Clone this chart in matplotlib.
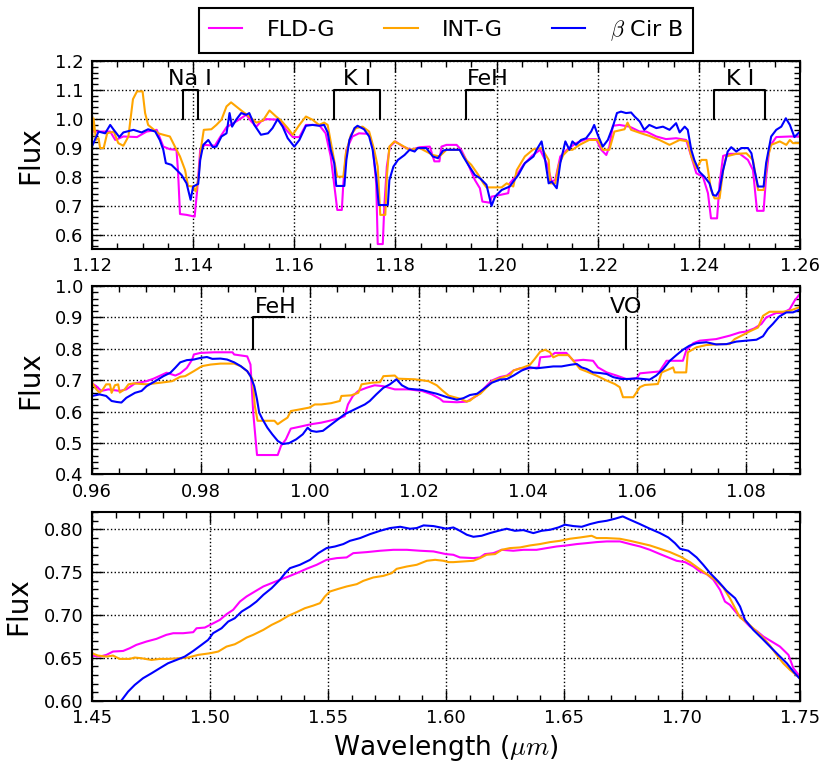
import matplotlib
matplotlib.use('Agg')
import matplotlib.pyplot as plt
from matplotlib.ticker import MultipleLocator, AutoMinorLocator, FormatStrFormatter

plt.rcParams['mathtext.fontset'] = 'cm'
plt.rcParams['font.family'] = ['DejaVu Sans']

# ---------------- data: J-band (1.12-1.26 um) ----------------
j_wave_fld = [1.1203, 1.1236, 1.1246, 1.1262, 1.1289, 1.1308, 1.1328, 1.1341, 1.1354, 1.1367, 1.1370, 1.1374,
              1.1387, 1.1403, 1.1408, 1.1414, 1.1423, 1.1443, 1.1452, 1.1466, 1.1485, 1.1505, 1.1515, 1.1525,
              1.1534, 1.1544, 1.1570, 1.1584, 1.1597, 1.1610, 1.1623, 1.1649, 1.1662, 1.1672, 1.1681, 1.1685,
              1.1694, 1.1697, 1.1703, 1.1715, 1.1728, 1.1748, 1.1755, 1.1762, 1.1765, 1.1775, 1.1778, 1.1783,
              1.1789, 1.1800, 1.1815, 1.1831, 1.1848, 1.1868, 1.1877, 1.1887, 1.1891, 1.1901, 1.1921, 1.1930,
              1.1940, 1.1957, 1.1967, 1.1972, 1.1987, 1.1990, 1.2007, 1.2023, 1.2026, 1.2040, 1.2053, 1.2070,
              1.2086, 1.2099, 1.2109, 1.2116, 1.2126, 1.2139, 1.2157, 1.2177, 1.2197, 1.2207, 1.2217, 1.2223,
              1.2230, 1.2243, 1.2263, 1.2283, 1.2296, 1.2316, 1.2335, 1.2355, 1.2375, 1.2385, 1.2395, 1.2408,
              1.2418, 1.2424, 1.2436, 1.2441, 1.2448, 1.2461, 1.2481, 1.2497, 1.2507, 1.2515, 1.2528, 1.2533,
              1.2540, 1.2553, 1.2580, 1.2600]
j_flux_fld = [0.956, 0.956, 0.927, 0.939, 0.937, 0.956, 0.962, 0.904, 0.895, 0.893, 0.823, 0.671,
              0.668, 0.662, 0.754, 0.893, 0.910, 0.907, 0.933, 0.971, 0.991, 1.014, 0.991, 0.973,
              0.991, 0.999, 0.997, 0.962, 0.937, 0.937, 0.979, 0.979, 0.950, 0.870, 0.743, 0.685,
              0.685, 0.777, 0.893, 0.939, 0.950, 0.948, 0.904, 0.777, 0.567, 0.567, 0.697, 0.835,
              0.904, 0.922, 0.904, 0.893, 0.902, 0.904, 0.853, 0.853, 0.904, 0.910, 0.910, 0.893,
              0.858, 0.789, 0.760, 0.714, 0.710, 0.731, 0.737, 0.743, 0.777, 0.806, 0.841, 0.872,
              0.893, 0.847, 0.783, 0.789, 0.870, 0.893, 0.916, 0.930, 0.930, 0.893, 0.875, 0.904,
              0.976, 0.979, 0.973, 0.956, 0.956, 0.939, 0.930, 0.933, 0.927, 0.870, 0.812, 0.800,
              0.743, 0.656, 0.656, 0.777, 0.872, 0.879, 0.879, 0.858, 0.823, 0.682, 0.682, 0.800,
              0.904, 0.937, 0.939, 0.939]

j_wave_int = [1.1200, 1.1203, 1.1208, 1.1213, 1.1216, 1.1223, 1.1230, 1.1243, 1.1252, 1.1262, 1.1272, 1.1281,
              1.1289, 1.1300, 1.1305, 1.1311, 1.1331, 1.1341, 1.1354, 1.1364, 1.1374, 1.1384, 1.1390, 1.1400,
              1.1405, 1.1410, 1.1416, 1.1421, 1.1436, 1.1446, 1.1456, 1.1466, 1.1475, 1.1485, 1.1498, 1.1511,
              1.1525, 1.1538, 1.1551, 1.1564, 1.1574, 1.1587, 1.1597, 1.1610, 1.1623, 1.1636, 1.1649, 1.1659,
              1.1666, 1.1675, 1.1685, 1.1697, 1.1702, 1.1712, 1.1722, 1.1735, 1.1748, 1.1758, 1.1765, 1.1770,
              1.1780, 1.1783, 1.1788, 1.1798, 1.1811, 1.1828, 1.1848, 1.1861, 1.1874, 1.1887, 1.1901, 1.1927,
              1.1940, 1.1950, 1.1964, 1.1974, 1.1980, 1.2010, 1.2020, 1.2033, 1.2040, 1.2056, 1.2073, 1.2089,
              1.2103, 1.2106, 1.2116, 1.2123, 1.2132, 1.2142, 1.2150, 1.2164, 1.2183, 1.2200, 1.2210, 1.2223,
              1.2233, 1.2253, 1.2259, 1.2266, 1.2286, 1.2302, 1.2322, 1.2342, 1.2362, 1.2378, 1.2385, 1.2395,
              1.2405, 1.2415, 1.2424, 1.2431, 1.2441, 1.2448, 1.2454, 1.2474, 1.2494, 1.2507, 1.2517, 1.2528,
              1.2535, 1.2543, 1.2560, 1.2573, 1.2580, 1.2586, 1.2600]
j_flux_int = [0.930, 1.002, 0.927, 0.933, 0.899, 0.899, 0.950, 0.956, 0.916, 0.907, 0.939, 1.068,
              1.095, 1.095, 1.020, 0.979, 0.950, 0.945, 0.939, 0.904, 0.870, 0.823, 0.768, 0.766,
              0.749, 0.789, 0.904, 0.962, 0.964, 0.979, 0.997, 1.043, 1.057, 1.043, 1.025, 1.008,
              0.987, 0.994, 1.029, 1.008, 0.994, 0.968, 0.945, 0.979, 1.008, 0.997, 0.979, 0.987,
              0.979, 0.893, 0.800, 0.800, 0.881, 0.945, 0.968, 0.973, 0.956, 0.893, 0.835, 0.668,
              0.668, 0.800, 0.904, 0.922, 0.910, 0.893, 0.899, 0.887, 0.875, 0.870, 0.893, 0.893,
              0.858, 0.841, 0.806, 0.777, 0.763, 0.763, 0.777, 0.766, 0.823, 0.870, 0.895, 0.899,
              0.858, 0.777, 0.777, 0.841, 0.875, 0.893, 0.893, 0.910, 0.927, 0.927, 0.893, 0.893,
              0.956, 0.964, 0.987, 0.962, 0.950, 0.941, 0.927, 0.910, 0.927, 0.922, 0.870, 0.829,
              0.858, 0.858, 0.754, 0.725, 0.725, 0.823, 0.870, 0.879, 0.881, 0.858, 0.754, 0.754,
              0.858, 0.910, 0.922, 0.910, 0.927, 0.916, 0.916]

j_wave_bcb = [1.1200, 1.1213, 1.1226, 1.1236, 1.1243, 1.1254, 1.1262, 1.1282, 1.1298, 1.1311, 1.1325, 1.1334,
              1.1341, 1.1346, 1.1357, 1.1367, 1.1377, 1.1387, 1.1395, 1.1400, 1.1410, 1.1414, 1.1420, 1.1430,
              1.1439, 1.1446, 1.1456, 1.1466, 1.1472, 1.1477, 1.1485, 1.1495, 1.1505, 1.1511, 1.1521, 1.1534,
              1.1548, 1.1557, 1.1567, 1.1577, 1.1587, 1.1600, 1.1610, 1.1623, 1.1636, 1.1649, 1.1659, 1.1666,
              1.1672, 1.1679, 1.1683, 1.1699, 1.1703, 1.1709, 1.1719, 1.1725, 1.1738, 1.1748, 1.1755, 1.1762,
              1.1767, 1.1785, 1.1788, 1.1796, 1.1805, 1.1818, 1.1828, 1.1838, 1.1844, 1.1861, 1.1874, 1.1884,
              1.1894, 1.1901, 1.1927, 1.1934, 1.1944, 1.1957, 1.1967, 1.1980, 1.1990, 1.1997, 1.2010, 1.2026,
              1.2033, 1.2043, 1.2056, 1.2073, 1.2079, 1.2089, 1.2096, 1.2103, 1.2109, 1.2119, 1.2126, 1.2136,
              1.2144, 1.2150, 1.2157, 1.2167, 1.2177, 1.2187, 1.2193, 1.2200, 1.2210, 1.2220, 1.2230, 1.2238,
              1.2246, 1.2256, 1.2266, 1.2273, 1.2283, 1.2292, 1.2302, 1.2316, 1.2329, 1.2342, 1.2355, 1.2362,
              1.2372, 1.2378, 1.2385, 1.2391, 1.2401, 1.2411, 1.2421, 1.2428, 1.2434, 1.2441, 1.2448, 1.2457,
              1.2464, 1.2474, 1.2484, 1.2497, 1.2504, 1.2510, 1.2517, 1.2528, 1.2533, 1.2543, 1.2553, 1.2563,
              1.2572, 1.2580, 1.2589, 1.2600]
j_flux_bcb = [0.905, 0.956, 0.950, 0.979, 0.962, 0.937, 0.953, 0.962, 0.953, 0.964, 0.956, 0.927,
              0.893, 0.847, 0.841, 0.824, 0.806, 0.777, 0.720, 0.766, 0.775, 0.858, 0.910, 0.927,
              0.902, 0.904, 0.939, 0.950, 1.020, 0.973, 0.997, 1.020, 1.014, 1.020, 0.979, 0.945,
              0.950, 0.968, 0.999, 0.973, 0.933, 0.904, 0.927, 0.976, 0.979, 0.976, 0.979, 0.953,
              0.893, 0.847, 0.768, 0.768, 0.858, 0.927, 0.968, 0.976, 0.964, 0.939, 0.893, 0.800,
              0.702, 0.702, 0.788, 0.835, 0.858, 0.875, 0.893, 0.887, 0.899, 0.899, 0.870, 0.864,
              0.890, 0.893, 0.893, 0.870, 0.841, 0.806, 0.795, 0.772, 0.699, 0.731, 0.754, 0.766,
              0.783, 0.806, 0.847, 0.870, 0.893, 0.922, 0.858, 0.777, 0.783, 0.760, 0.847, 0.922,
              0.893, 0.922, 0.910, 0.927, 0.933, 0.956, 0.979, 0.945, 0.904, 0.927, 0.973, 1.020,
              1.025, 1.020, 1.022, 1.008, 0.991, 0.962, 0.979, 0.968, 0.973, 0.962, 0.985, 0.953,
              0.973, 0.962, 0.893, 0.858, 0.817, 0.800, 0.777, 0.737, 0.734, 0.754, 0.823, 0.887,
              0.902, 0.887, 0.899, 0.899, 0.881, 0.823, 0.766, 0.766, 0.847, 0.939, 0.962, 0.973,
              1.002, 0.979, 0.937, 0.956]

# ---------------- data: Y-band (0.96-1.09 um) ----------------
y_wave_fld = [0.9600, 0.9608, 0.9617, 0.9630, 0.9651, 0.9663, 0.9679, 0.9700, 0.9713, 0.9737, 0.9753, 0.9762,
              0.9774, 0.9784, 0.9787, 0.9799, 0.9824, 0.9858, 0.9861, 0.9885, 0.9891, 0.9896, 0.9903, 0.9941,
              0.9947, 0.9956, 0.9965, 0.9984, 1.0002, 1.0021, 1.0036, 1.0052, 1.0064, 1.0070, 1.0079, 1.0089,
              1.0104, 1.0119, 1.0135, 1.0156, 1.0181, 1.0206, 1.0224, 1.0239, 1.0245, 1.0270, 1.0288, 1.0307,
              1.0322, 1.0334, 1.0349, 1.0362, 1.0374, 1.0386, 1.0404, 1.0420, 1.0423, 1.0441, 1.0450, 1.0471,
              1.0484, 1.0502, 1.0520, 1.0529, 1.0545, 1.0563, 1.0581, 1.0600, 1.0606, 1.0624, 1.0642, 1.0655,
              1.0670, 1.0685, 1.0691, 1.0704, 1.0716, 1.0746, 1.0771, 1.0789, 1.0801, 1.0816, 1.0829, 1.0838,
              1.0856, 1.0868, 1.0881, 1.0890, 1.0898]
y_flux_fld = [0.690, 0.681, 0.666, 0.671, 0.666, 0.671, 0.690, 0.697, 0.705, 0.724, 0.715, 0.722,
              0.739, 0.766, 0.782, 0.787, 0.789, 0.789, 0.782, 0.776, 0.750, 0.597, 0.462, 0.462,
              0.491, 0.512, 0.546, 0.553, 0.560, 0.565, 0.571, 0.578, 0.586, 0.623, 0.650, 0.666,
              0.676, 0.684, 0.681, 0.671, 0.671, 0.666, 0.655, 0.641, 0.632, 0.630, 0.632, 0.651,
              0.678, 0.699, 0.710, 0.715, 0.731, 0.738, 0.738, 0.741, 0.773, 0.776, 0.787, 0.787,
              0.762, 0.765, 0.762, 0.741, 0.725, 0.715, 0.704, 0.706, 0.722, 0.725, 0.728, 0.762,
              0.762, 0.762, 0.794, 0.818, 0.826, 0.831, 0.842, 0.852, 0.855, 0.865, 0.879, 0.900,
              0.914, 0.914, 0.926, 0.953, 0.971]

y_wave_int = [0.9600, 0.9608, 0.9614, 0.9620, 0.9626, 0.9633, 0.9636, 0.9642, 0.9648, 0.9651, 0.9660, 0.9667,
              0.9676, 0.9700, 0.9725, 0.9747, 0.9762, 0.9771, 0.9787, 0.9802, 0.9818, 0.9836, 0.9861, 0.9873,
              0.9885, 0.9895, 0.9899, 0.9904, 0.9935, 0.9941, 0.9950, 0.9959, 0.9965, 0.9984, 0.9999, 1.0009,
              1.0021, 1.0039, 1.0055, 1.0058, 1.0076, 1.0089, 1.0095, 1.0113, 1.0129, 1.0135, 1.0156, 1.0162,
              1.0193, 1.0218, 1.0233, 1.0243, 1.0255, 1.0276, 1.0288, 1.0294, 1.0304, 1.0313, 1.0325, 1.0337,
              1.0355, 1.0368, 1.0374, 1.0392, 1.0404, 1.0413, 1.0423, 1.0432, 1.0441, 1.0447, 1.0456, 1.0475,
              1.0484, 1.0496, 1.0508, 1.0526, 1.0545, 1.0560, 1.0569, 1.0575, 1.0594, 1.0606, 1.0615, 1.0639,
              1.0646, 1.0661, 1.0667, 1.0670, 1.0691, 1.0694, 1.0710, 1.0728, 1.0752, 1.0771, 1.0780, 1.0795,
              1.0807, 1.0823, 1.0832, 1.0844, 1.0868, 1.0881, 1.0898]
y_flux_int = [0.692, 0.671, 0.660, 0.671, 0.687, 0.687, 0.660, 0.684, 0.687, 0.661, 0.671, 0.687,
              0.690, 0.687, 0.692, 0.697, 0.711, 0.713, 0.729, 0.745, 0.750, 0.753, 0.753, 0.745,
              0.729, 0.703, 0.618, 0.571, 0.571, 0.560, 0.571, 0.581, 0.602, 0.608, 0.613, 0.623,
              0.623, 0.627, 0.634, 0.650, 0.652, 0.660, 0.687, 0.692, 0.694, 0.713, 0.715, 0.705,
              0.703, 0.697, 0.684, 0.668, 0.651, 0.641, 0.632, 0.635, 0.649, 0.657, 0.678, 0.699,
              0.710, 0.717, 0.731, 0.741, 0.749, 0.768, 0.791, 0.797, 0.789, 0.773, 0.780, 0.780,
              0.762, 0.736, 0.728, 0.715, 0.699, 0.688, 0.678, 0.646, 0.646, 0.678, 0.685, 0.688,
              0.725, 0.736, 0.741, 0.725, 0.725, 0.789, 0.805, 0.812, 0.815, 0.815, 0.831, 0.844,
              0.855, 0.868, 0.905, 0.918, 0.918, 0.921, 0.932]

y_wave_bcb = [0.9600, 0.9614, 0.9626, 0.9636, 0.9645, 0.9654, 0.9663, 0.9679, 0.9691, 0.9700, 0.9716, 0.9731,
              0.9744, 0.9753, 0.9762, 0.9774, 0.9787, 0.9799, 0.9811, 0.9821, 0.9836, 0.9848, 0.9861, 0.9873,
              0.9885, 0.9891, 0.9898, 0.9903, 0.9907, 0.9913, 0.9922, 0.9931, 0.9941, 0.9950, 0.9962, 0.9975,
              0.9987, 0.9996, 1.0002, 1.0012, 1.0024, 1.0036, 1.0052, 1.0064, 1.0076, 1.0089, 1.0101, 1.0110,
              1.0122, 1.0135, 1.0147, 1.0159, 1.0169, 1.0181, 1.0193, 1.0206, 1.0221, 1.0233, 1.0252, 1.0270,
              1.0282, 1.0294, 1.0307, 1.0319, 1.0334, 1.0349, 1.0362, 1.0374, 1.0389, 1.0404, 1.0416, 1.0432,
              1.0447, 1.0462, 1.0478, 1.0490, 1.0499, 1.0508, 1.0520, 1.0533, 1.0545, 1.0557, 1.0572, 1.0587,
              1.0600, 1.0612, 1.0624, 1.0636, 1.0649, 1.0661, 1.0673, 1.0685, 1.0697, 1.0710, 1.0728, 1.0746,
              1.0765, 1.0783, 1.0801, 1.0820, 1.0832, 1.0841, 1.0850, 1.0862, 1.0875, 1.0887, 1.0898]
y_flux_bcb = [0.650, 0.655, 0.650, 0.634, 0.631, 0.629, 0.644, 0.660, 0.666, 0.681, 0.697, 0.713,
              0.724, 0.740, 0.757, 0.764, 0.766, 0.771, 0.774, 0.768, 0.769, 0.766, 0.757, 0.745,
              0.729, 0.713, 0.681, 0.639, 0.597, 0.576, 0.549, 0.528, 0.507, 0.497, 0.500, 0.512,
              0.528, 0.549, 0.539, 0.536, 0.539, 0.555, 0.576, 0.592, 0.602, 0.613, 0.623, 0.634,
              0.655, 0.676, 0.687, 0.703, 0.684, 0.673, 0.671, 0.669, 0.662, 0.657, 0.646, 0.638,
              0.643, 0.653, 0.657, 0.672, 0.692, 0.702, 0.704, 0.715, 0.731, 0.741, 0.738, 0.741,
              0.744, 0.744, 0.749, 0.752, 0.741, 0.736, 0.725, 0.723, 0.720, 0.710, 0.704, 0.704,
              0.706, 0.704, 0.702, 0.715, 0.736, 0.762, 0.780, 0.797, 0.810, 0.818, 0.821, 0.814,
              0.815, 0.823, 0.826, 0.829, 0.840, 0.863, 0.879, 0.903, 0.916, 0.916, 0.924]

# ---------------- data: H-band (1.45-1.75 um) ----------------
h_wave_fld = [1.4500, 1.4533, 1.4561, 1.4589, 1.4632, 1.4660, 1.4688, 1.4731, 1.4773, 1.4815, 1.4844, 1.4886,
              1.4929, 1.4943, 1.4978, 1.5006, 1.5042, 1.5070, 1.5098, 1.5127, 1.5155, 1.5190, 1.5226, 1.5261,
              1.5296, 1.5332, 1.5367, 1.5409, 1.5452, 1.5494, 1.5537, 1.5579, 1.5607, 1.5664, 1.5721, 1.5777,
              1.5834, 1.5890, 1.5947, 1.6000, 1.6031, 1.6059, 1.6116, 1.6144, 1.6165, 1.6201, 1.6236, 1.6285,
              1.6328, 1.6384, 1.6427, 1.6469, 1.6511, 1.6554, 1.6596, 1.6638, 1.6681, 1.6737, 1.6780, 1.6822,
              1.6864, 1.6907, 1.6949, 1.6977, 1.7013, 1.7048, 1.7076, 1.7105, 1.7133, 1.7161, 1.7182, 1.7203,
              1.7232, 1.7260, 1.7288, 1.7316, 1.7345, 1.7380, 1.7415, 1.7451, 1.7472, 1.7500]
h_flux_fld = [0.6527, 0.6515, 0.6535, 0.6574, 0.6581, 0.6613, 0.6652, 0.6691, 0.6722, 0.6769, 0.6788, 0.6788,
              0.6800, 0.6846, 0.6854, 0.6893, 0.6944, 0.7010, 0.7061, 0.7158, 0.7217, 0.7275, 0.7334, 0.7373,
              0.7412, 0.7450, 0.7489, 0.7540, 0.7587, 0.7645, 0.7665, 0.7673, 0.7723, 0.7735, 0.7751, 0.7762,
              0.7762, 0.7751, 0.7743, 0.7712, 0.7704, 0.7673, 0.7665, 0.7673, 0.7712, 0.7723, 0.7762, 0.7751,
              0.7762, 0.7762, 0.7782, 0.7801, 0.7813, 0.7829, 0.7840, 0.7852, 0.7860, 0.7860, 0.7829, 0.7801,
              0.7762, 0.7712, 0.7665, 0.7634, 0.7618, 0.7567, 0.7509, 0.7478, 0.7412, 0.7295, 0.7158, 0.7119,
              0.7022, 0.6944, 0.6866, 0.6815, 0.6749, 0.6691, 0.6632, 0.6535, 0.6379, 0.6281]

h_wave_int = [1.4500, 1.4525, 1.4561, 1.4589, 1.4617, 1.4660, 1.4681, 1.4709, 1.4752, 1.4787, 1.4822, 1.4872,
              1.4907, 1.4950, 1.5000, 1.5035, 1.5070, 1.5105, 1.5127, 1.5155, 1.5183, 1.5226, 1.5261, 1.5296,
              1.5332, 1.5367, 1.5402, 1.5438, 1.5466, 1.5487, 1.5508, 1.5544, 1.5579, 1.5622, 1.5650, 1.5692,
              1.5735, 1.5770, 1.5791, 1.5834, 1.5876, 1.5919, 1.5954, 1.5989, 1.6011, 1.6031, 1.6073, 1.6116,
              1.6144, 1.6172, 1.6208, 1.6236, 1.6271, 1.6314, 1.6356, 1.6398, 1.6441, 1.6483, 1.6525, 1.6568,
              1.6617, 1.6638, 1.6681, 1.6737, 1.6780, 1.6822, 1.6864, 1.6907, 1.6949, 1.6992, 1.7034, 1.7069,
              1.7105, 1.7140, 1.7175, 1.7203, 1.7225, 1.7246, 1.7274, 1.7309, 1.7345, 1.7373, 1.7401, 1.7429,
              1.7458, 1.7500]
h_flux_int = [0.6554, 0.6527, 0.6515, 0.6527, 0.6488, 0.6488, 0.6504, 0.6496, 0.6476, 0.6488, 0.6488, 0.6496,
              0.6504, 0.6535, 0.6554, 0.6574, 0.6632, 0.6659, 0.6691, 0.6737, 0.6769, 0.6827, 0.6885, 0.6932,
              0.6991, 0.7034, 0.7080, 0.7111, 0.7139, 0.7217, 0.7275, 0.7306, 0.7334, 0.7361, 0.7400, 0.7439,
              0.7458, 0.7489, 0.7540, 0.7567, 0.7587, 0.7634, 0.7645, 0.7634, 0.7618, 0.7618, 0.7626, 0.7634,
              0.7665, 0.7704, 0.7712, 0.7762, 0.7782, 0.7790, 0.7813, 0.7829, 0.7852, 0.7867, 0.7891, 0.7906,
              0.7926, 0.7899, 0.7899, 0.7891, 0.7867, 0.7840, 0.7813, 0.7774, 0.7735, 0.7684, 0.7618, 0.7548,
              0.7478, 0.7412, 0.7322, 0.7197, 0.7080, 0.6971, 0.6917, 0.6827, 0.6730, 0.6644, 0.6535, 0.6437,
              0.6359, 0.6262]

h_wave_bcb = [1.4600, 1.4624, 1.4653, 1.4681, 1.4716, 1.4752, 1.4787, 1.4822, 1.4858, 1.4893, 1.4929, 1.4964,
              1.4992, 1.5013, 1.5049, 1.5077, 1.5105, 1.5134, 1.5169, 1.5197, 1.5226, 1.5261, 1.5296, 1.5318,
              1.5339, 1.5381, 1.5424, 1.5459, 1.5494, 1.5530, 1.5565, 1.5593, 1.5636, 1.5678, 1.5721, 1.5763,
              1.5806, 1.5848, 1.5876, 1.5905, 1.5947, 1.5989, 1.6000, 1.6031, 1.6059, 1.6088, 1.6116, 1.6151,
              1.6186, 1.6222, 1.6257, 1.6292, 1.6328, 1.6370, 1.6405, 1.6441, 1.6476, 1.6504, 1.6540, 1.6575,
              1.6610, 1.6645, 1.6681, 1.6716, 1.6749, 1.6780, 1.6822, 1.6864, 1.6907, 1.6942, 1.6970, 1.6992,
              1.7027, 1.7062, 1.7090, 1.7119, 1.7154, 1.7189, 1.7225, 1.7246, 1.7267, 1.7302, 1.7338, 1.7373,
              1.7408, 1.7444, 1.7472, 1.7500]
h_flux_bcb = [0.5920, 0.6000, 0.6106, 0.6184, 0.6262, 0.6320, 0.6379, 0.6437, 0.6476, 0.6515, 0.6581, 0.6652,
              0.6710, 0.6788, 0.6846, 0.6924, 0.6963, 0.7041, 0.7100, 0.7158, 0.7236, 0.7314, 0.7412, 0.7488,
              0.7548, 0.7587, 0.7645, 0.7723, 0.7782, 0.7801, 0.7829, 0.7867, 0.7899, 0.7945, 0.7984, 0.8016,
              0.8031, 0.8008, 0.8016, 0.8047, 0.8039, 0.8016, 0.8008, 0.8023, 0.7984, 0.7938, 0.7914, 0.7926,
              0.7957, 0.7984, 0.8008, 0.7984, 0.7992, 0.7957, 0.7984, 0.7996, 0.8023, 0.8055, 0.8039, 0.8031,
              0.8062, 0.8086, 0.8101, 0.8125, 0.8152, 0.8113, 0.8062, 0.8008, 0.7957, 0.7906, 0.7840, 0.7774,
              0.7751, 0.7673, 0.7587, 0.7490, 0.7392, 0.7283, 0.7197, 0.7100, 0.6944, 0.6827, 0.6730, 0.6632,
              0.6535, 0.6437, 0.6340, 0.6254]

# ---------------- feature labels ----------------
j_features = [("Na I", 1.1379, 1.1409, 1.1394), ("K I", 1.1679, 1.1770, 1.1725),
              ("FeH", 1.1940, 1.1993, 1.1983), ("K I", 1.2430, 1.2530, 1.2481)]
y_features = [("FeH", 0.9896, 0.9953, 0.9938), ("VO", 1.0580, 1.0580, 1.0581)]

series_labels = ["FLD-G", "INT-G", r"$\beta$ Cir B"]
series_colors = ["#FF00FF", "#FFA500", "#0000FF"]

# ---------------- figure ----------------
W, H = 830, 773
fig = plt.figure(figsize=(W / 100, H / 100), dpi=100)
left, width = 92 / W, 708 / W
ax1 = fig.add_axes([left, 1 - 249 / H, width, 188 / H])
ax2 = fig.add_axes([left, 1 - 474.5 / H, width, 188.5 / H])
ax3 = fig.add_axes([left, 1 - 700.7 / H, width, 188.4 / H])


def style(ax, xlim, ylim, xmaj, ymaj, xfmt, yfmt):
    ax.set_xlim(*xlim)
    ax.set_ylim(*ylim)
    ax.xaxis.set_major_locator(MultipleLocator(xmaj))
    ax.yaxis.set_major_locator(MultipleLocator(ymaj))
    ax.xaxis.set_minor_locator(AutoMinorLocator())
    ax.yaxis.set_minor_locator(AutoMinorLocator())
    ax.xaxis.set_major_formatter(FormatStrFormatter(xfmt))
    ax.yaxis.set_major_formatter(FormatStrFormatter(yfmt))
    ax.tick_params(which='both', direction='in', top=True, right=True, labelsize=13, pad=6)
    ax.tick_params(which='major', length=8, width=1)
    ax.tick_params(which='minor', length=4, width=1)
    ax.grid(True, which='major', linestyle=':', color='black', linewidth=1)
    for s in ax.spines.values():
        s.set_linewidth(1.5)
    ax.set_ylabel('Flux', fontsize=20, labelpad=8)


panels = [
    (ax1, [(j_wave_fld, j_flux_fld), (j_wave_int, j_flux_int), (j_wave_bcb, j_flux_bcb)]),
    (ax2, [(y_wave_fld, y_flux_fld), (y_wave_int, y_flux_int), (y_wave_bcb, y_flux_bcb)]),
    (ax3, [(h_wave_fld, h_flux_fld), (h_wave_int, h_flux_int), (h_wave_bcb, h_flux_bcb)]),
]
handles = []
for ax, data in panels:
    hs = []
    for (wv, fl), c, lab in zip(data, series_colors, series_labels):
        h, = ax.plot(wv, fl, color=c, lw=1.5, label=lab)
        hs.append(h)
    if not handles:
        handles = hs

style(ax1, (1.12, 1.26), (0.55, 1.2), 0.02, 0.1, '%.2f', '%.1f')
style(ax2, (0.96, 1.09), (0.4, 1.0), 0.02, 0.1, '%.2f', '%.1f')
style(ax3, (1.45, 1.75), (0.60, 0.82), 0.05, 0.05, '%.2f', '%.2f')

for lab, xa, xb, xt in j_features:
    if lab == "FeH":
        ax1.plot([xa, xa, xb], [1.0, 1.1, 1.1], color='black', lw=1.5)
    else:
        ax1.plot([xa, xa, xb, xb], [1.0, 1.1, 1.1, 1.0], color='black', lw=1.5)
    ax1.text(xt, 1.117, lab, ha='center', va='baseline', fontsize=16)

for lab, xa, xb, xt in y_features:
    if xa == xb:
        ax2.plot([xa, xa], [0.8, 0.9], color='black', lw=1.5)
    else:
        ax2.plot([xa, xa, xb], [0.8, 0.9, 0.9], color='black', lw=1.5)
    ax2.text(xt, 0.914, lab, ha='center', va='baseline', fontsize=16)

ax3.set_xlabel(r'Wavelength ($\mu m$)', fontsize=19)

leg = fig.legend(handles, series_labels, loc='center', bbox_to_anchor=(446 / W, 1 - 30.5 / H),
                 ncol=3, fontsize=16, frameon=True, fancybox=False, edgecolor='black',
                 framealpha=1, handlelength=1.5, handletextpad=1.1, columnspacing=2.2,
                 borderpad=0.45)
leg.get_frame().set_linewidth(1.5)

fig.savefig('out.png', dpi=100)
